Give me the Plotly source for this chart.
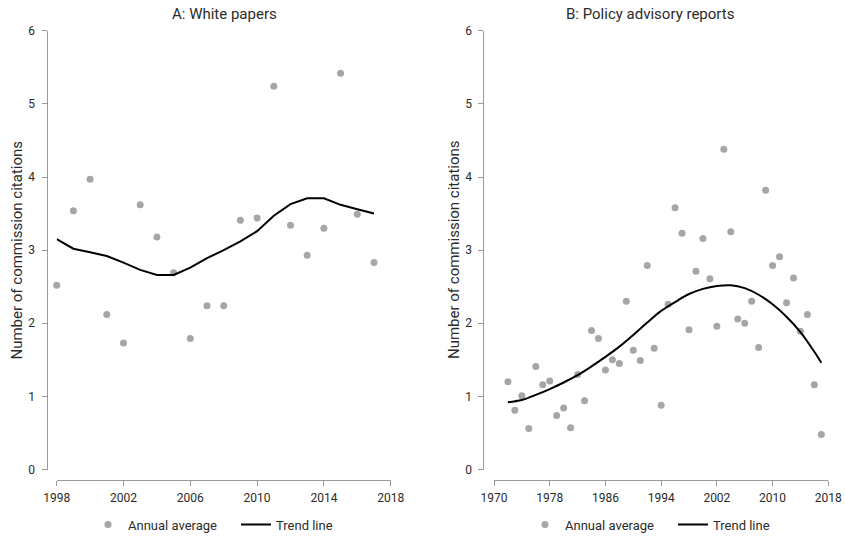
import plotly.graph_objects as go

# Panel A: white papers
years_a = list(range(1998, 2018))
avg_a = [2.52, 3.54, 3.97, 2.12, 1.73, 3.62, 3.18, 2.69, 1.79, 2.24,
         2.24, 3.41, 3.44, 5.24, 3.34, 2.93, 3.30, 5.42, 3.49, 2.83]
trend_a = [3.15, 3.02, 2.97, 2.92, 2.83, 2.73, 2.66, 2.66, 2.76, 2.89,
           3.00, 3.12, 3.26, 3.47, 3.63, 3.71, 3.71, 3.62, 3.56, 3.50]

# Panel B: policy advisory reports
years_b = list(range(1972, 2018))
avg_b = [1.20, 0.81, 1.01, 0.56, 1.41, 1.16, 1.21, 0.74, 0.84, 0.57,
         1.30, 0.94, 1.90, 1.79, 1.36, 1.50, 1.45, 2.30, 1.63, 1.49,
         2.79, 1.66, 0.88, 2.26, 3.58, 3.23, 1.91, 2.71, 3.16, 2.61,
         1.96, 4.38, 3.25, 2.06, 2.00, 2.30, 1.67, 3.82, 2.79, 2.91,
         2.28, 2.62, 1.89, 2.12, 1.16, 0.48]
trend_years_b = [1972, 1974, 1976, 1978, 1980, 1982, 1984, 1986, 1988, 1990,
                 1992, 1994, 1996, 1998, 2000, 2002, 2004, 2006, 2008, 2010,
                 2012, 2014, 2016, 2017]
trend_b = [0.92, 0.95, 1.02, 1.10, 1.19, 1.29, 1.41, 1.54, 1.68, 1.84,
           2.01, 2.17, 2.29, 2.40, 2.47, 2.51, 2.52, 2.48, 2.39, 2.26,
           2.09, 1.88, 1.61, 1.46]

x_ticks_a = [1998, 2002, 2006, 2010, 2014, 2018]
x_ticks_b = [1970, 1978, 1986, 1994, 2002, 2010, 2018]
y_ticks = [0, 1, 2, 3, 4, 5, 6]

titles = ["A: White papers", "B: Policy advisory reports"]
y_title = "Number of commission citations"

FONT = "Roboto"
TEXT = "#2b2b2b"
AXIS = "#9a9a9a"
POINT = "#a6a6a6"

fig = go.Figure()

fig.add_trace(go.Scatter(x=years_a, y=avg_a, mode="markers", name="Annual average",
                         marker=dict(color=POINT, size=7), cliponaxis=False,
                         xaxis="x", yaxis="y", legend="legend"))
fig.add_trace(go.Scatter(x=years_a, y=trend_a, mode="lines", name="Trend line",
                         line=dict(color="black", width=2), cliponaxis=False,
                         xaxis="x", yaxis="y", legend="legend"))
fig.add_trace(go.Scatter(x=years_b, y=avg_b, mode="markers", name="Annual average",
                         marker=dict(color=POINT, size=7), cliponaxis=False,
                         xaxis="x2", yaxis="y2", legend="legend2"))
fig.add_trace(go.Scatter(x=trend_years_b, y=trend_b, mode="lines", name="Trend line",
                         line=dict(color="black", width=2, shape="spline", smoothing=1.0),
                         cliponaxis=False, xaxis="x2", yaxis="y2", legend="legend2"))

W, H = 845, 538
y_dom = [1 - 469.5 / H, 1 - 30.8 / H]
x_pos = 1 - 480 / H

common_x = dict(showgrid=False, zeroline=False, showline=True, linecolor=AXIS,
                linewidth=1, ticks="outside", ticklen=5, tickcolor=AXIS,
                tickfont=dict(family=FONT, size=12, color=TEXT), ticklabelstandoff=2,
                anchor="free", position=x_pos, automargin=False, fixedrange=True)
common_y = dict(showgrid=False, zeroline=False, showline=True, linecolor=AXIS,
                linewidth=1, ticks="outside", ticklen=5, tickcolor=AXIS,
                tickfont=dict(family=FONT, size=12, color=TEXT), ticklabelstandoff=4,
                range=[0, 6], tickvals=y_ticks, domain=y_dom, anchor="free",
                automargin=False, fixedrange=True)

legend_common = dict(orientation="h", xanchor="left", yanchor="middle",
                     y=1 - 524.5 / H, font=dict(family=FONT, size=13, color=TEXT),
                     bgcolor="rgba(0,0,0,0)", itemwidth=30, tracegroupgap=0,
                     entrywidth=103)

text_annot = dict(xref="paper", yref="paper", showarrow=False,
                  xanchor="center", yanchor="middle")

fig.update_layout(
    template="plotly_white",
    width=W, height=H,
    margin=dict(l=0, r=0, t=0, b=0, autoexpand=False),
    paper_bgcolor="white", plot_bgcolor="white",
    showlegend=True,
    xaxis=dict(common_x, domain=[56.7 / W, 390.7 / W], range=[1998, 2018],
               tickvals=x_ticks_a),
    yaxis=dict(common_y, position=46.5 / W),
    xaxis2=dict(common_x, domain=[494 / W, 828.3 / W], range=[1970, 2018],
                tickvals=x_ticks_b),
    yaxis2=dict(common_y, position=483.3 / W),
    legend=dict(legend_common, x=(108 - 20) / W),
    legend2=dict(legend_common, x=(545 - 20) / W),
    annotations=[
        dict(text_annot, text=titles[0], x=224 / W, y=1 - 14 / H,
             font=dict(family=FONT, size=15, color=TEXT)),
        dict(text_annot, text=titles[1], x=650 / W, y=1 - 14 / H,
             font=dict(family=FONT, size=15, color=TEXT)),
        dict(text_annot, text=y_title, x=16.5 / W, y=1 - 250 / H, textangle=-90,
             font=dict(family=FONT, size=15, color=TEXT)),
        dict(text_annot, text=y_title, x=454 / W, y=1 - 250 / H, textangle=-90,
             font=dict(family=FONT, size=15, color=TEXT)),
    ],
)

fig.write_html("out.html")
